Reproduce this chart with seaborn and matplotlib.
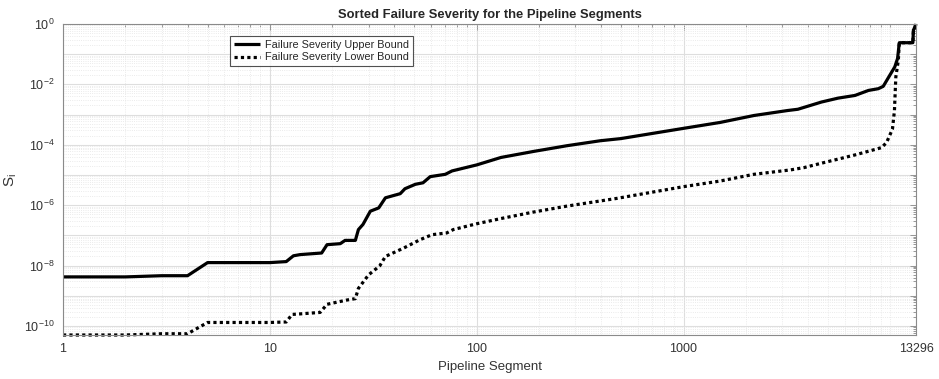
import numpy as np
import pandas as pd
import matplotlib
matplotlib.use("Agg")
import matplotlib.pyplot as plt
import seaborn as sns
from matplotlib.ticker import FixedLocator, FuncFormatter, NullFormatter

# ---- data ----
upper_x = [1, 2, 3, 4, 5, 10, 12, 13, 14, 17.8, 18.9, 21.9, 23.1, 25.9, 26.8, 28.2, 30.6,
           33.6, 36.2, 42.7, 45, 50.5, 55, 59.6, 70.5, 76, 100, 131, 188, 273, 396, 497,
           1000, 1505, 2186, 3180, 3570, 4640, 5580, 6740, 7830, 8740, 9230, 9930, 10500,
           10830, 11040, 12840, 12920, 13170, 13296]
upper_y = [4.2e-9, 4.2e-9, 4.6e-9, 4.6e-9, 1.25e-8, 1.25e-8, 1.35e-8, 2.1e-8, 2.3e-8, 2.6e-8,
           4.9e-8, 5.3e-8, 6.8e-8, 6.8e-8, 1.55e-7, 2.3e-7, 6.3e-7, 8.1e-7, 1.75e-6, 2.4e-6,
           3.5e-6, 4.9e-6, 5.5e-6, 8.8e-6, 1.05e-5, 1.36e-5, 2.15e-5, 3.8e-5, 6.0e-5, 9.3e-5,
           1.36e-4, 1.6e-4, 3.5e-4, 5.5e-4, 9.3e-4, 1.36e-3, 1.5e-3, 2.6e-3, 3.5e-3, 4.3e-3,
           6.3e-3, 7.2e-3, 8.6e-3, 2.0e-2, 3.8e-2, 7.2e-2, 0.24, 0.24, 0.63, 0.81, 1.0]

lower_x = [1, 2, 3, 4, 5, 10, 12, 12.8, 14, 17.5, 18.9, 23.6, 25.9, 26.8, 30, 34, 36.2, 44.4,
           53.3, 60.8, 71.6, 77, 99.5, 131, 188, 273, 475, 1000, 1505, 2186, 3290, 3820, 4640,
           6740, 8740, 9080, 9590, 10230, 10460, 10620, 10920, 11040, 12840, 12920, 13170, 13296]
lower_y = [5.0e-11, 5.0e-11, 5.5e-11, 5.5e-11, 1.3e-10, 1.3e-10, 1.35e-10, 2.4e-10, 2.5e-10,
           2.8e-10, 5.2e-10, 7.2e-10, 8.0e-10, 1.75e-9, 4.9e-9, 9.8e-9, 2.0e-8, 3.8e-8, 7.2e-8,
           1.05e-7, 1.2e-7, 1.55e-7, 2.4e-7, 3.6e-7, 5.9e-7, 9.3e-7, 1.67e-6, 4.1e-6, 6.3e-6,
           1.05e-5, 1.47e-5, 1.75e-5, 2.45e-5, 4.6e-5, 7.5e-5, 8.1e-5, 1.2e-4, 3.3e-4, 1.36e-3,
           1.75e-2, 6.3e-2, 0.24, 0.24, 0.63, 0.81, 1.0]

series_names = ["Failure Severity Upper Bound", "Failure Severity Lower Bound"]
x_tick_values = [1, 10, 100, 1000, 13296]
x_tick_labels = ["1", "10", "100", "1000", "13296"]
title_text = "Sorted Failure Severity for the Pipeline Segments"
x_label = "Pipeline Segment"
y_label = "S$_{\\mathregular{i}}$"

# ---- style ----
sns.set_theme(style="white")
plt.rcParams["font.family"] = ["Liberation Sans", "DejaVu Sans"]
plt.rcParams["mathtext.fontset"] = "custom"
plt.rcParams["mathtext.rm"] = "Liberation Sans"
plt.rcParams["mathtext.it"] = "Liberation Sans:italic"
plt.rcParams["mathtext.bf"] = "Liberation Sans:bold"

fig = plt.figure(figsize=(9.39, 3.79), dpi=100)
ax = fig.add_axes([63 / 939, 1 - 335 / 379, (916 - 63) / 939, (335 - 24) / 379])

df_u = pd.DataFrame({"x": upper_x, "y": upper_y})
df_l = pd.DataFrame({"x": lower_x, "y": lower_y})

sns.lineplot(data=df_u, x="x", y="y", ax=ax, color="black", linewidth=2.3,
             estimator=None, sort=False, label=series_names[0])
sns.lineplot(data=df_l, x="x", y="y", ax=ax, color="black", linewidth=2.3,
             estimator=None, sort=False, label=series_names[1])
lines = ax.get_lines()
lines[1].set_dashes([1.0, 1.0])
for ln in lines:
    ln.set_clip_on(False)
    ln.set_solid_capstyle("butt")
    ln.set_dash_capstyle("butt")

ax.set_xscale("log")
ax.set_yscale("log")
ax.set_xlim(1, 13296)
ax.set_ylim(5e-11, 1)

# x ticks
ax.xaxis.set_major_locator(FixedLocator(x_tick_values))
ax.set_xticklabels(x_tick_labels)
minor_x = [m * 10 ** k for k in range(0, 4) for m in range(2, 10)] + [10000]
ax.xaxis.set_minor_locator(FixedLocator(minor_x))
ax.xaxis.set_minor_formatter(NullFormatter())

# y ticks: major every decade, labels every two
major_y = [10.0 ** e for e in range(-10, 1)]
ax.yaxis.set_major_locator(FixedLocator(major_y))
def yfmt(v, pos):
    e = int(round(np.log10(v)))
    if e % 2 == 0:
        return "10$^{\\mathregular{%d}}$" % e
    return ""
ax.yaxis.set_major_formatter(FuncFormatter(yfmt))
minor_y = [m * 10.0 ** k for k in range(-11, 0) for m in range(2, 10)]
minor_y = [v for v in minor_y if 5e-11 <= v <= 1]
ax.yaxis.set_minor_locator(FixedLocator(minor_y))
ax.yaxis.set_minor_formatter(NullFormatter())

ax.grid(True, which="major", color="#dedede", linewidth=0.8, linestyle="-")
ax.grid(True, which="minor", color="#e4e4e4", linewidth=0.6, linestyle=":")
ax.set_axisbelow(True)

ax.tick_params(which="both", direction="in", top=True, right=True, colors="#888888",
               labelcolor="#333333", labelsize=9)
ax.tick_params(which="major", length=4, width=0.6, pad=6)
ax.tick_params(which="minor", length=2.5, width=0.6)
for sp in ax.spines.values():
    sp.set_color("#8a8a8a")
    sp.set_linewidth(0.8)

ax.set_title(title_text, fontsize=9.4, fontweight="bold", pad=4)
ax.set_xlabel(x_label, fontsize=9.5, color="#333333", labelpad=4)
ax.set_ylabel(y_label, fontsize=11, color="#333333", labelpad=4)

leg = ax.legend(loc="upper left", bbox_to_anchor=((230 - 63) / 853, 1 - (36 - 24) / 311),
                fontsize=7.8, frameon=True, fancybox=False, handlelength=2.4,
                borderpad=0.35, labelspacing=0.25, handletextpad=0.5, borderaxespad=0)
leg.get_frame().set_edgecolor("#262626")
leg.get_frame().set_linewidth(0.8)
for h in leg.get_lines():
    h.set_linewidth(2.3)
leg.get_lines()[1].set_dashes([1.0, 1.0])

fig.savefig("out.png", dpi=100)
